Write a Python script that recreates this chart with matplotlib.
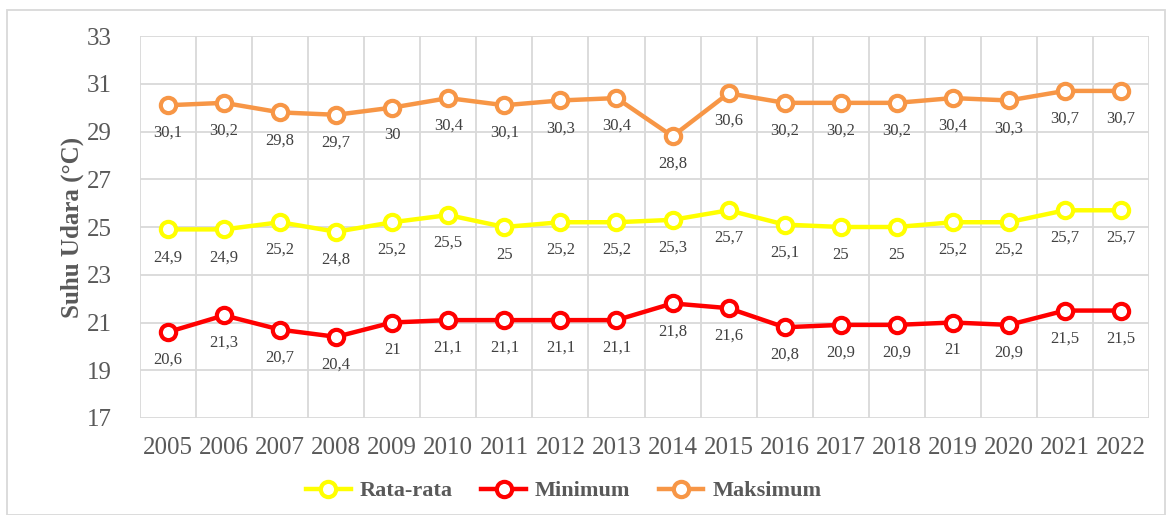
import matplotlib.pyplot as plt
from matplotlib.patches import Rectangle

years = [str(y) for y in range(2005, 2023)]
rata_rata = [24.9, 24.9, 25.2, 24.8, 25.2, 25.5, 25, 25.2, 25.2, 25.3, 25.7, 25.1, 25, 25, 25.2, 25.2, 25.7, 25.7]
minimum = [20.6, 21.3, 20.7, 20.4, 21, 21.1, 21.1, 21.1, 21.1, 21.8, 21.6, 20.8, 20.9, 20.9, 21, 20.9, 21.5, 21.5]
maksimum = [30.1, 30.2, 29.8, 29.7, 30, 30.4, 30.1, 30.3, 30.4, 28.8, 30.6, 30.2, 30.2, 30.2, 30.4, 30.3, 30.7, 30.7]
y_ticks = [17, 19, 21, 23, 25, 27, 29, 31, 33]

plt.rcParams['font.family'] = ['Liberation Serif', 'DejaVu Serif']
txt = '#595959'

fig = plt.figure(figsize=(11.72, 5.15), dpi=100)
ax = fig.add_axes([140/1172, 1 - 418/515, (1149-140)/1172, (418-36)/515])

x = list(range(len(years)))
series = [("Rata-rata", rata_rata, '#ffff00'),
          ("Minimum", minimum, '#ff0000'),
          ("Maksimum", maksimum, '#f79646')]

for name, vals, col in series:
    ax.plot(x, vals, color=col, lw=3.2, marker='o', ms=11, mfc='white',
            mec=col, mew=3, label=name, zorder=3)
    for xi, v in zip(x, vals):
        lab = f"{v:g}".replace('.', ',')
        ax.annotate(lab, (xi, v), xytext=(0, -20), textcoords='offset points',
                    ha='center', va='center', fontsize=12, color='#404040')

ax.set_xlim(-0.5, len(years) - 0.5)
ax.set_ylim(17, 33)
ax.set_yticks(y_ticks)
ax.set_xticks(x)
ax.set_xticklabels(years)
ax.set_xticks([i - 0.5 for i in range(len(years) + 1)], minor=True)
ax.grid(False)
ax.grid(True, which='minor', axis='x', color='#d9d9d9', lw=1.3)
ax.grid(True, which='major', axis='y', color='#d9d9d9', lw=1.3)
ax.set_axisbelow(True)
for s in ax.spines.values():
    s.set_visible(False)
ax.tick_params(which='both', length=0)
ax.tick_params(axis='y', labelsize=18, colors=txt, pad=20)
ax.tick_params(axis='x', labelsize=18, colors=txt, pad=14)
ax.set_ylabel("Suhu Udara (°C)", fontsize=18, fontweight='bold', color=txt, labelpad=2)

ax.legend(loc='center', bbox_to_anchor=(0.42, (1 - 491/515 - (1 - 418/515)) / ((418-36)/515)),
          ncol=3, frameon=False, prop={'weight': 'bold', 'size': 16},
          labelcolor=txt, handlelength=2.0, handletextpad=0.4, columnspacing=1.3)

fig.patches.append(Rectangle((7/1172, 0), (1165-7)/1172, 1 - 10/515, transform=fig.transFigure,
                             fill=False, ec='#d9d9d9', lw=1.3))

fig.savefig("out.png", dpi=100)
